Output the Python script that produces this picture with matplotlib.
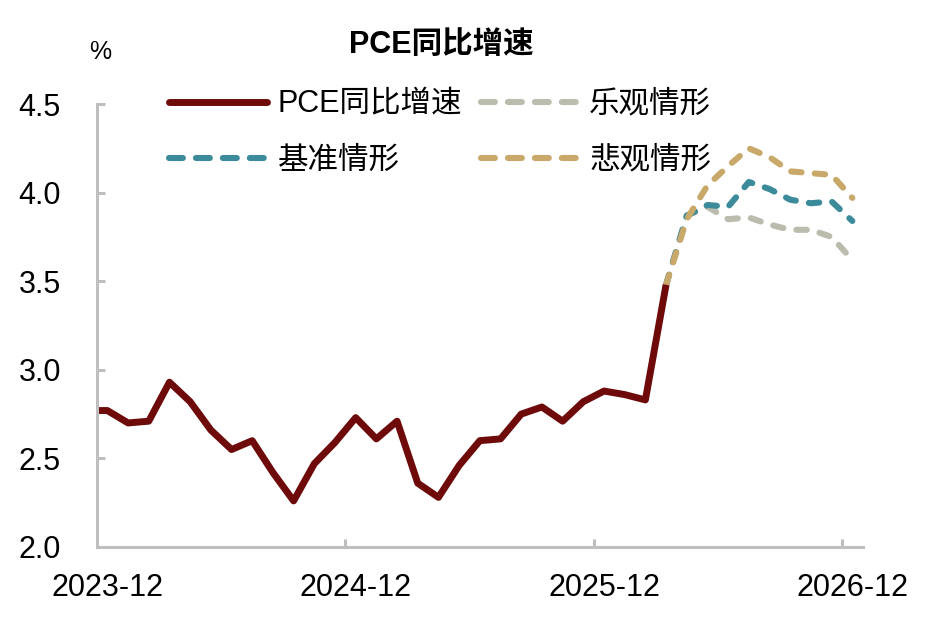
import matplotlib
matplotlib.use('Agg')
import matplotlib.pyplot as plt
from matplotlib.lines import Line2D

plt.rcParams['font.family'] = ['Liberation Sans', 'Noto Sans CJK SC', 'DejaVu Sans']
plt.rcParams['axes.unicode_minus'] = False
plt.rcParams['lines.scale_dashes'] = False

# monthly categories, 2023-11 .. 2026-12
months = [f'{y}-{m:02d}' for y in range(2023, 2027) for m in range(1, 13)][10:]
tick_labels = ['2023-12', '2024-12', '2025-12', '2026-12']

# actual PCE yoy (2023-11 .. 2026-03)
pce = [2.77, 2.77, 2.70, 2.71, 2.93, 2.82, 2.66, 2.55, 2.60, 2.42, 2.26,
       2.47, 2.59, 2.73, 2.61, 2.71, 2.36, 2.28, 2.46, 2.60, 2.61,
       2.75, 2.79, 2.71, 2.82, 2.88, 2.86, 2.83, 3.48]
# scenarios (2026-03 .. 2026-12)
optimistic = [3.48, 3.87, 3.92, 3.85, 3.86, 3.82, 3.79, 3.79, 3.75, 3.62]
baseline = [3.48, 3.87, 3.93, 3.92, 4.06, 4.02, 3.96, 3.94, 3.95, 3.84]
pessimistic = [3.48, 3.85, 4.04, 4.15, 4.25, 4.20, 4.12, 4.11, 4.10, 3.97]

c_pce = '#6e0a0a'
c_opt = '#bcbcae'
c_base = '#3c8b9b'
c_pes = '#c9a96a'

fig = plt.figure(figsize=(9.25, 6.21), dpi=100)
ax = fig.add_axes([0.1049, 0.1192, 0.8277, 0.7133])

x_pce = list(range(len(pce)))
x_sc = list(range(len(pce) - 1, len(pce) - 1 + len(baseline)))

dash = (0, (7.5, 9.5))
ax.plot(x_sc, optimistic, color=c_opt, lw=4.4, linestyle=dash, dash_capstyle='round', dash_joinstyle='round')
ax.plot(x_sc, baseline, color=c_base, lw=4.4, linestyle=dash, dash_capstyle='round', dash_joinstyle='round')
ax.plot(x_sc, pessimistic, color=c_pes, lw=4.4, linestyle=dash, dash_capstyle='round', dash_joinstyle='round')
ax.plot(x_pce, pce, color=c_pce, lw=5, solid_capstyle='butt', solid_joinstyle='round')

ax.set_xlim(0.5, len(months) - 0.5)
ax.set_ylim(2.0, 4.5)
ax.set_yticks([2.0, 2.5, 3.0, 3.5, 4.0, 4.5])
ax.set_yticklabels(['2.0', '2.5', '3.0', '3.5', '4.0', '4.5'])

label_pos = [months.index(t) for t in tick_labels]
ax.set_xticks(label_pos)
ax.set_xticklabels(tick_labels)
ax.set_xticks([p - 0.5 for p in label_pos[1:]], minor=True)

grey = '#bfbfbf'
for s in ['top', 'right']:
    ax.spines[s].set_visible(False)
for s in ['left', 'bottom']:
    ax.spines[s].set_color(grey)
    ax.spines[s].set_linewidth(2.2)
ax.tick_params(axis='y', direction='in', length=6, width=2.2, color=grey,
               labelsize=22, pad=26)
ax.tick_params(axis='x', which='major', length=0, labelsize=22, pad=19)
ax.tick_params(axis='x', which='minor', direction='in', length=6, width=2.2, color=grey)

fig.text(0.477, 0.927, 'PCE同比增速', ha='center', va='center', fontsize=22, fontweight='bold')
fig.text(0.108, 0.917, '%', ha='center', va='center', fontsize=18)

leg_dash = (0, (10, 9.4))
handles = [
    Line2D([], [], color=c_pce, lw=5, solid_capstyle='round'),
    Line2D([], [], color=c_base, lw=4.4, linestyle=leg_dash, dash_capstyle='round'),
    Line2D([], [], color=c_opt, lw=4.4, linestyle=leg_dash, dash_capstyle='round'),
    Line2D([], [], color=c_pes, lw=4.4, linestyle=leg_dash, dash_capstyle='round'),
]
labels = ['PCE同比增速', '基准情形', '乐观情形', '悲观情形']
fig.legend(handles, labels, ncol=2, loc='upper left', bbox_to_anchor=(0.183, 0.856),
           frameon=False, fontsize=22, handlelength=3.2, handletextpad=0.35,
           columnspacing=0.6, labelspacing=0.85, borderpad=0, borderaxespad=0)

fig.savefig('out.png', dpi=100)
